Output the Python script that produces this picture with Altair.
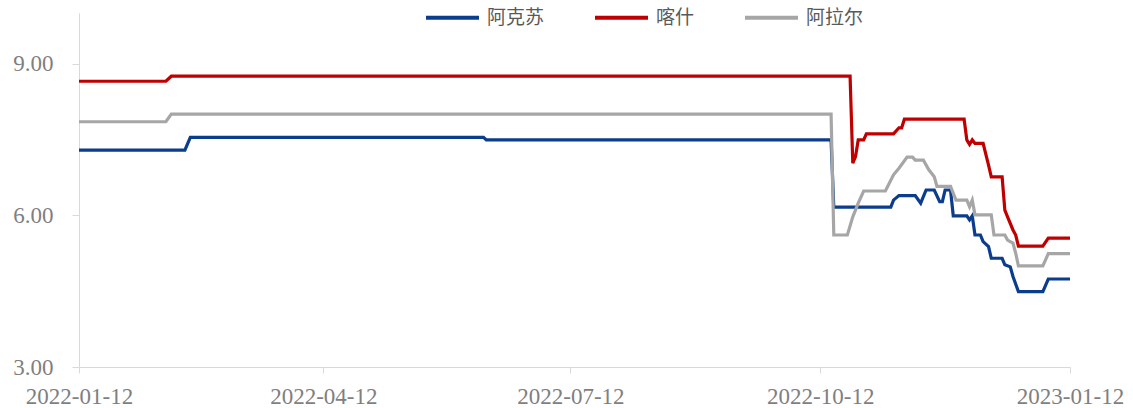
import altair as alt
import pandas as pd

series_names = ["阿克苏", "喀什", "阿拉尔"]
series_colors = ["#0B3D8C", "#C00000", "#A6A6A6"]

# 阿克苏
aks_dates = ["2022-01-12", "2022-02-20", "2022-02-22", "2022-06-10", "2022-06-11",
             "2022-10-16", "2022-10-17", "2022-11-07", "2022-11-08", "2022-11-10",
             "2022-11-16", "2022-11-18", "2022-11-20", "2022-11-23", "2022-11-25",
             "2022-11-26", "2022-11-27", "2022-11-29", "2022-11-30", "2022-12-05",
             "2022-12-06", "2022-12-07", "2022-12-08", "2022-12-10", "2022-12-11",
             "2022-12-13", "2022-12-14", "2022-12-18", "2022-12-19", "2022-12-21",
             "2022-12-22", "2022-12-24", "2023-01-02", "2023-01-04", "2023-01-12"]
aks_vals = [7.29, 7.29, 7.54, 7.54, 7.49,
            7.49, 6.16, 6.16, 6.30, 6.39,
            6.39, 6.24, 6.50, 6.50, 6.27,
            6.27, 6.50, 6.50, 5.99, 5.99,
            5.91, 5.99, 5.61, 5.61, 5.48,
            5.38, 5.15, 5.15, 5.02, 4.98,
            4.79, 4.49, 4.49, 4.74, 4.74]

# 喀什
ks_dates = ["2022-01-12", "2022-02-13", "2022-02-15", "2022-10-23", "2022-10-24",
            "2022-10-25", "2022-10-26", "2022-10-28", "2022-10-29", "2022-11-08",
            "2022-11-10", "2022-11-11", "2022-11-12", "2022-12-04", "2022-12-05",
            "2022-12-06", "2022-12-07", "2022-12-08", "2022-12-11", "2022-12-13",
            "2022-12-14", "2022-12-18", "2022-12-19", "2022-12-20", "2022-12-22",
            "2022-12-23", "2022-12-24", "2023-01-02", "2023-01-04", "2023-01-12"]
ks_vals = [8.65, 8.65, 8.75, 8.75, 7.03,
           7.16, 7.49, 7.49, 7.61, 7.61,
           7.73, 7.73, 7.90, 7.90, 7.49,
           7.40, 7.49, 7.42, 7.42, 6.99,
           6.76, 6.76, 6.10, 5.97, 5.71,
           5.61, 5.39, 5.39, 5.55, 5.55]

# 阿拉尔
ale_dates = ["2022-01-12", "2022-02-13", "2022-02-15", "2022-10-16", "2022-10-17",
             "2022-10-22", "2022-10-24", "2022-10-26", "2022-10-28", "2022-11-05",
             "2022-11-08", "2022-11-10", "2022-11-13", "2022-11-15", "2022-11-16",
             "2022-11-19", "2022-11-21", "2022-11-23", "2022-11-24", "2022-11-29",
             "2022-12-01", "2022-12-05", "2022-12-06", "2022-12-07", "2022-12-08",
             "2022-12-14", "2022-12-15", "2022-12-19", "2022-12-20", "2022-12-22",
             "2022-12-23", "2022-12-24", "2023-01-02", "2023-01-04", "2023-01-12"]
ale_vals = [7.85, 7.85, 8.00, 8.00, 5.61,
            5.61, 5.97, 6.24, 6.48, 6.48,
            6.80, 6.93, 7.15, 7.15, 7.09,
            7.09, 6.90, 6.76, 6.57, 6.57,
            6.30, 6.30, 6.17, 6.30, 6.01,
            6.01, 5.61, 5.61, 5.51, 5.45,
            5.25, 5.00, 5.00, 5.24, 5.24]

x_ticks = ["2022-01-12", "2022-04-12", "2022-07-12", "2022-10-12", "2023-01-12"]
y_ticks = [3, 6, 9]

frames = []
for name, ds, vs in zip(series_names, [aks_dates, ks_dates, ale_dates], [aks_vals, ks_vals, ale_vals]):
    frames.append(pd.DataFrame({"date": pd.to_datetime(ds), "value": vs, "series": name}))
df = pd.concat(frames, ignore_index=True)

def dt(s):
    t = pd.Timestamp(s)
    return alt.DateTime(year=t.year, month=t.month, date=t.day)

chart = alt.Chart(df).mark_line(strokeWidth=3.2, interpolate="linear").encode(
    x=alt.X("date:T",
            scale=alt.Scale(domain=[dt(x_ticks[0]), dt(x_ticks[-1])]),
            axis=alt.Axis(values=[dt(s) for s in x_ticks], format="%Y-%m-%d", title=None,
                          labelFont="Liberation Serif", labelFontSize=23, labelColor="#7F7F7F",
                          domainColor="#D9D9D9", tickColor="#D9D9D9", tickSize=6,
                          labelPadding=12, grid=False, labelOverlap=False, labelFlush=False)),
    y=alt.Y("value:Q",
            scale=alt.Scale(domain=[3, 10], nice=False, zero=False),
            axis=alt.Axis(values=y_ticks, format=".2f", title=None,
                          labelFont="Liberation Serif", labelFontSize=23, labelColor="#7F7F7F",
                          domainColor="#D9D9D9", tickColor="#D9D9D9", tickSize=7,
                          labelPadding=19, grid=False)),
    color=alt.Color("series:N",
                    scale=alt.Scale(domain=series_names, range=series_colors),
                    sort=series_names,
                    legend=alt.Legend(title=None, orient="none", direction="horizontal",
                                      legendX=345, legendY=-24,
                                      symbolType="stroke", symbolSize=2809,
                                      symbolStrokeWidth=4, labelFont="Noto Sans CJK SC",
                                      labelFontSize=19, labelColor="#595959",
                                      columnPadding=42, labelOffset=6)),
    order=alt.Order("date:T"),
).properties(
    width=991, height=354,
    background="white",
    autosize=alt.AutoSizeParams(type="none"),
    padding={"left": 79, "top": 13, "right": 63, "bottom": 41},
).configure_view(strokeWidth=0)

chart.save("out.html", embed_options={"renderer": "svg", "actions": False})
